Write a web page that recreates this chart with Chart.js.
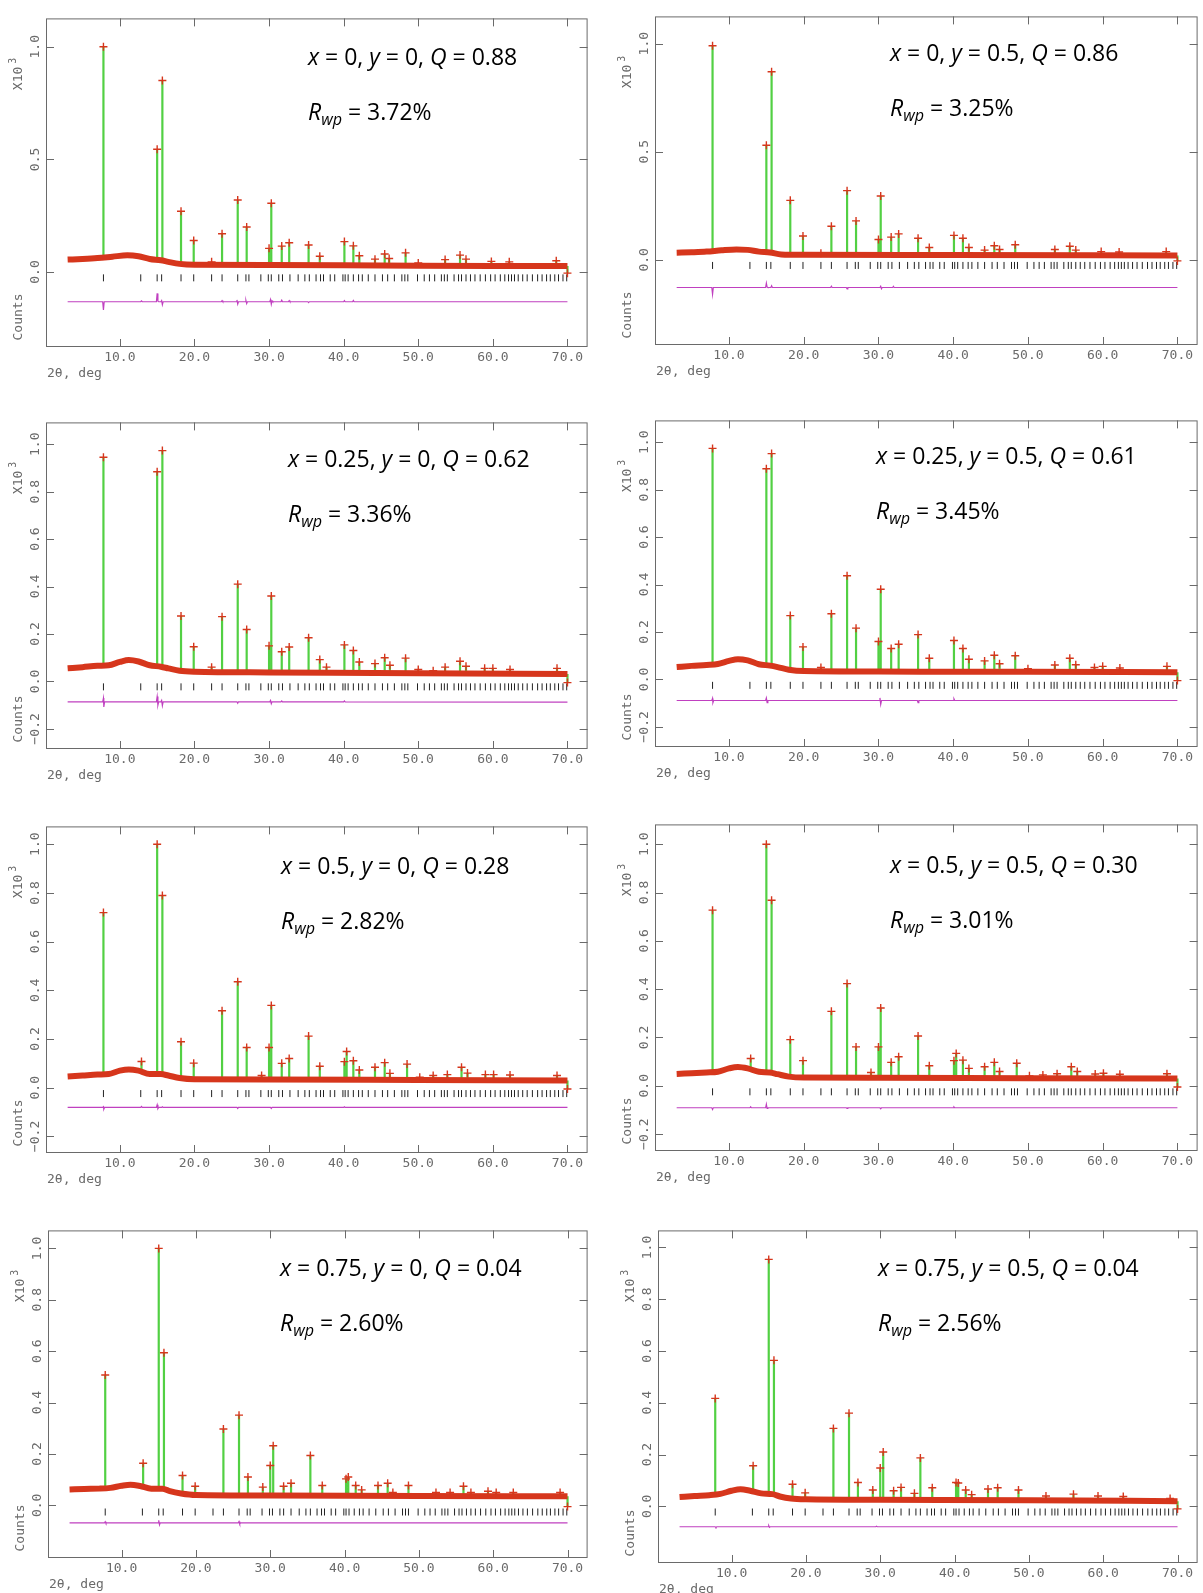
<!DOCTYPE html>
<html>
<head>
<meta charset="utf-8">
<script src="https://cdn.jsdelivr.net/npm/chart.js@4"></script>
<style>
  html, body { margin: 0; padding: 0; background: #fff; overflow: hidden; }
  #page { position: relative; width: 1203px; height: 1593px; background: #fff; }
  #page canvas { position: absolute; }
  .note { position: absolute; font-family: "Open Sans", sans-serif; font-size: 23px; line-height: 23px; color: #000; white-space: nowrap; }
  .note i { font-style: italic; }
  .note sub { font-size: 0.7em; font-style: italic; vertical-align: -0.3em; line-height: 0; }
</style>
</head>
<body>
<div id="page"></div>
<script>
// composition labels and fit quality for the 8 refinements
const compX = ['0', '0', '0.25', '0.25', '0.5', '0.5', '0.75', '0.75'];
const compY = ['0', '0.5', '0', '0.5', '0', '0.5', '0', '0.5'];
const qValues = ['0.88', '0.86', '0.62', '0.61', '0.28', '0.30', '0.04', '0.04'];
const rwpValues = ['3.72%', '3.25%', '3.36%', '3.45%', '2.82%', '3.01%', '2.60%', '2.56%'];

// 2theta axis ticks and reflection marker positions (deg)
const xTicks = [10, 20, 30, 40, 50, 60, 70];
const yTicksHalf = [0, 0.5, 1.0];
const yTicksFifth = [-0.2, 0, 0.2, 0.4, 0.6, 0.8, 1.0];
const yTicksPos = [0, 0.2, 0.4, 0.6, 0.8, 1.0];
const reflPos = [7.8, 12.8, 15.0, 15.6, 18.2, 19.9, 22.3, 23.7, 25.8, 26.9, 27.3, 28.9, 29.9, 30.3,
  31.3, 31.8, 32.8, 33.9, 34.8, 35.4, 36.3, 36.9, 37.3, 38.2, 38.8, 39.9, 40.2, 40.6, 41.3, 42.0,
  42.5, 43.3, 44.2, 45.2, 45.9, 46.8, 47.8, 48.2, 48.6, 49.9, 50.8, 51.5, 52.2, 53.1, 53.5, 53.9,
  54.8, 55.4, 55.8, 56.4, 57.0, 57.6, 58.3, 59.0, 59.7, 60.3, 61.0, 61.6, 62.1, 62.5, 62.9, 63.4,
  64.0, 64.6, 65.3, 66.0, 66.6, 67.2, 67.7, 68.3, 68.8, 69.4, 69.9];

// background (observed band) per panel: [2theta, counts x10^3]
const bgA = [[3,0.055],[5,0.058],[7,0.062],[9,0.068],[11,0.074],[12.5,0.07],[14,0.058],[15.5,0.052],[16.5,0.045],[18,0.036],[20,0.032],[30,0.031],[40,0.03],[50,0.028],[60,0.027],[70,0.027]];
const bgB = [[3,0.033],[5,0.035],[7,0.038],[9,0.044],[11,0.048],[12.5,0.046],[14,0.038],[15.5,0.034],[17,0.025],[20,0.023],[40,0.022],[70,0.02]];
const bgC = [[3,0.055],[5,0.06],[7,0.066],[8.5,0.068],[10,0.082],[11.2,0.09],[12.5,0.084],[14,0.068],[15.5,0.062],[16.5,0.055],[18,0.045],[20,0.041],[30,0.038],[50,0.034],[70,0.031]];
const bgD = [[3,0.052],[5,0.057],[7,0.061],[8.5,0.065],[10,0.078],[11.2,0.085],[12.5,0.08],[14,0.064],[15.5,0.058],[16.5,0.052],[18,0.041],[20,0.035],[30,0.033],[50,0.032],[70,0.03]];
const bgE = [[3,0.046],[5,0.05],[7,0.054],[8.5,0.056],[10,0.07],[11.2,0.075],[12.5,0.07],[14,0.056],[15.5,0.056],[16.5,0.05],[18,0.04],[20,0.035],[30,0.034],[50,0.032],[70,0.03]];
const bgF = [[3,0.049],[5,0.052],[7,0.055],[8.5,0.058],[10,0.072],[11.2,0.078],[12.5,0.072],[14,0.058],[15.5,0.055],[16.5,0.048],[18,0.038],[20,0.034],[30,0.033],[50,0.031],[70,0.03]];
const bgG = [[3,0.062],[5,0.064],[7,0.065],[8.5,0.068],[10,0.076],[11.2,0.08],[12.5,0.075],[14,0.065],[15.5,0.065],[16.5,0.055],[18,0.046],[20,0.04],[30,0.038],[50,0.036],[70,0.035]];
const bgH = [[3,0.036],[5,0.04],[7,0.043],[8.5,0.048],[10,0.06],[11.2,0.066],[12.5,0.06],[14,0.05],[15.5,0.047],[16.5,0.038],[18,0.03],[20,0.027],[30,0.025],[50,0.023],[70,0.02]];

// peak maxima per panel: [2theta, counts x10^3]
const peaksA = [[7.8,1.0],[15.0,0.545],[15.7,0.85],[18.2,0.27],[19.9,0.14],[22.3,0.045],[23.7,0.17],[25.8,0.32],[27.0,0.20],[30.0,0.105],[30.3,0.305],[31.7,0.115],[32.7,0.13],[35.3,0.12],[36.8,0.07],[40.1,0.135],[41.3,0.116],[42.1,0.072],[44.2,0.057],[45.5,0.08],[46.1,0.06],[48.3,0.085],[50.0,0.04],[53.6,0.055],[55.6,0.075],[56.4,0.057],[59.8,0.047],[62.2,0.045],[68.5,0.05],[70.0,-0.005]];
const peaksB = [[7.8,0.99],[15.0,0.53],[15.7,0.87],[18.2,0.275],[19.9,0.11],[22.3,0.03],[23.7,0.155],[25.8,0.32],[27.0,0.18],[30.0,0.094],[30.3,0.295],[31.7,0.105],[32.7,0.12],[35.3,0.10],[36.8,0.057],[40.1,0.113],[41.3,0.10],[42.1,0.057],[44.2,0.045],[45.5,0.065],[46.2,0.048],[48.3,0.07],[53.6,0.048],[55.6,0.063],[56.4,0.045],[59.8,0.038],[62.2,0.036],[68.5,0.038],[70.0,-0.005]];
const peaksC = [[7.8,0.945],[15.0,0.884],[15.7,0.973],[18.2,0.276],[19.9,0.146],[22.3,0.06],[23.7,0.273],[25.8,0.41],[27.0,0.219],[30.0,0.15],[30.3,0.36],[31.7,0.125],[32.7,0.145],[35.3,0.184],[36.8,0.092],[37.7,0.06],[40.1,0.154],[41.3,0.13],[42.1,0.082],[44.2,0.075],[45.5,0.1],[46.2,0.068],[48.3,0.098],[50.0,0.05],[52.0,0.045],[53.6,0.06],[55.6,0.085],[56.4,0.064],[58.9,0.055],[60.0,0.055],[62.3,0.05],[68.6,0.055],[70.0,-0.005]];
const peaksD = [[7.8,0.974],[15.0,0.888],[15.7,0.952],[18.2,0.269],[19.9,0.137],[22.3,0.05],[23.7,0.277],[25.8,0.437],[27.0,0.216],[30.0,0.16],[30.3,0.38],[31.7,0.13],[32.7,0.148],[35.3,0.189],[36.8,0.089],[40.1,0.164],[41.3,0.13],[42.1,0.085],[44.2,0.078],[45.5,0.102],[46.2,0.066],[48.3,0.1],[50.0,0.045],[53.6,0.061],[55.6,0.089],[56.4,0.062],[58.9,0.05],[60.0,0.055],[62.3,0.048],[68.6,0.055],[70.0,-0.005]];
const peaksE = [[7.8,0.719],[12.9,0.108],[15.0,1.0],[15.7,0.789],[18.2,0.189],[19.9,0.101],[23.7,0.316],[25.8,0.435],[27.0,0.165],[29.0,0.05],[30.0,0.165],[30.3,0.338],[31.7,0.1],[32.7,0.12],[35.3,0.212],[36.8,0.088],[40.1,0.107],[40.4,0.149],[41.3,0.111],[42.1,0.073],[44.2,0.084],[45.5,0.103],[46.2,0.059],[48.5,0.097],[50.2,0.043],[52.0,0.05],[53.9,0.054],[55.8,0.084],[56.6,0.06],[59.0,0.054],[60.1,0.054],[62.3,0.052],[68.6,0.05],[70.0,-0.005]];
const peaksF = [[7.8,0.727],[12.9,0.113],[15.0,1.0],[15.7,0.768],[18.2,0.191],[19.9,0.104],[23.7,0.308],[25.8,0.423],[27.0,0.161],[29.0,0.055],[30.0,0.161],[30.3,0.322],[31.7,0.097],[32.7,0.12],[35.3,0.206],[36.8,0.083],[40.1,0.104],[40.4,0.134],[41.3,0.106],[42.1,0.072],[44.2,0.079],[45.5,0.097],[46.2,0.059],[48.5,0.093],[50.2,0.041],[52.0,0.045],[53.9,0.05],[55.8,0.079],[56.6,0.059],[59.0,0.049],[60.1,0.052],[62.3,0.048],[68.6,0.05],[70.0,-0.005]];
const peaksG = [[7.8,0.507],[12.9,0.164],[15.0,1.0],[15.7,0.594],[18.2,0.116],[19.9,0.074],[23.7,0.297],[25.8,0.351],[27.0,0.11],[29.0,0.071],[30.0,0.155],[30.4,0.232],[31.8,0.074],[32.8,0.086],[35.4,0.194],[37.0,0.077],[40.2,0.103],[40.5,0.11],[41.5,0.077],[42.3,0.06],[44.5,0.077],[45.8,0.086],[46.5,0.05],[48.6,0.077],[52.3,0.05],[54.2,0.05],[56.0,0.074],[57.0,0.05],[59.3,0.055],[60.4,0.05],[62.7,0.05],[69.0,0.05],[70.0,-0.005]];
const peaksH = [[7.8,0.417],[12.9,0.157],[15.0,0.954],[15.7,0.564],[18.2,0.085],[19.9,0.052],[23.7,0.301],[25.8,0.36],[27.0,0.092],[29.0,0.063],[30.0,0.148],[30.4,0.21],[31.8,0.06],[32.8,0.073],[34.6,0.05],[35.4,0.187],[37.0,0.072],[40.2,0.092],[40.5,0.09],[41.5,0.063],[42.3,0.045],[44.5,0.067],[45.8,0.072],[48.6,0.063],[52.3,0.04],[56.0,0.047],[59.3,0.04],[62.7,0.038],[69.0,0.03],[70.0,-0.01]];

// difference curves (obs - calc, offset)
const diffA = [[3,-0.132],[7.7,-0.132],[7.8,-0.168],[7.9,-0.132],[12.8,-0.132],[12.9,-0.128],[13.0,-0.132],[14.9,-0.132],[15.0,-0.095],[15.1,-0.13],[15.2,-0.132],[15.5,-0.132],[15.6,-0.127],[15.7,-0.145],[15.8,-0.132],[23.6,-0.132],[23.7,-0.127],[23.8,-0.132],[25.6,-0.132],[25.7,-0.124],[25.8,-0.142],[25.9,-0.132],[26.8,-0.132],[26.9,-0.126],[27.0,-0.14],[27.1,-0.132],[30.1,-0.132],[30.2,-0.122],[30.3,-0.143],[30.4,-0.128],[30.5,-0.132],[31.6,-0.132],[31.7,-0.125],[31.8,-0.132],[32.6,-0.132],[32.7,-0.127],[32.8,-0.132],[35.2,-0.132],[35.3,-0.136],[35.4,-0.132],[40.0,-0.132],[40.1,-0.127],[40.2,-0.132],[41.2,-0.132],[41.3,-0.126],[41.4,-0.132],[70,-0.132]];
const diffB = [[3,-0.128],[7.7,-0.128],[7.8,-0.16],[7.9,-0.128],[14.9,-0.128],[15.0,-0.108],[15.1,-0.126],[15.2,-0.128],[15.6,-0.128],[15.7,-0.12],[15.8,-0.128],[23.6,-0.128],[23.7,-0.122],[23.8,-0.128],[25.7,-0.128],[25.8,-0.134],[25.9,-0.128],[30.2,-0.128],[30.3,-0.122],[30.4,-0.134],[30.5,-0.128],[31.9,-0.128],[32.0,-0.123],[32.1,-0.128],[70,-0.128]];
const diffC = [[3,-0.086],[7.7,-0.086],[7.8,-0.07],[7.85,-0.108],[7.95,-0.086],[14.9,-0.086],[15.0,-0.064],[15.1,-0.1],[15.2,-0.086],[15.5,-0.086],[15.6,-0.08],[15.7,-0.102],[15.8,-0.086],[25.7,-0.086],[25.8,-0.092],[25.9,-0.086],[30.1,-0.086],[30.2,-0.08],[30.3,-0.094],[30.4,-0.086],[31.6,-0.086],[31.7,-0.082],[31.8,-0.086],[40.0,-0.086],[40.1,-0.082],[40.2,-0.086],[70,-0.087]];
const diffD = [[3,-0.089],[7.7,-0.089],[7.8,-0.08],[7.85,-0.098],[7.95,-0.089],[14.9,-0.089],[15.0,-0.078],[15.1,-0.098],[15.2,-0.089],[30.1,-0.089],[30.2,-0.078],[30.3,-0.105],[30.4,-0.089],[35.2,-0.089],[35.3,-0.098],[35.4,-0.089],[40.0,-0.089],[40.1,-0.082],[40.2,-0.089],[70,-0.089]];
const diffE = [[3,-0.081],[7.7,-0.081],[7.8,-0.078],[7.85,-0.088],[7.95,-0.081],[12.8,-0.081],[12.9,-0.077],[13.0,-0.081],[14.9,-0.081],[15.0,-0.07],[15.1,-0.086],[15.2,-0.081],[15.6,-0.081],[15.7,-0.078],[15.8,-0.081],[25.7,-0.081],[25.8,-0.085],[25.9,-0.081],[30.2,-0.081],[30.3,-0.085],[30.4,-0.081],[40.0,-0.081],[40.1,-0.078],[40.2,-0.081],[70,-0.081]];
const diffF = [[3,-0.091],[7.7,-0.091],[7.8,-0.098],[7.9,-0.091],[12.8,-0.091],[12.9,-0.087],[13.0,-0.091],[14.9,-0.091],[15.0,-0.076],[15.1,-0.094],[15.2,-0.091],[25.7,-0.091],[25.8,-0.094],[25.9,-0.091],[30.2,-0.091],[30.3,-0.095],[30.4,-0.091],[40.0,-0.091],[40.1,-0.088],[40.2,-0.091],[70,-0.091]];
const diffG = [[3,-0.068],[7.7,-0.068],[7.8,-0.064],[7.9,-0.07],[8.0,-0.068],[14.9,-0.068],[15.0,-0.058],[15.1,-0.076],[15.2,-0.068],[25.7,-0.068],[25.8,-0.063],[25.9,-0.072],[26.0,-0.068],[70,-0.068]];
const diffH = [[3,-0.079],[7.8,-0.079],[7.9,-0.082],[8.0,-0.079],[14.9,-0.079],[15.0,-0.075],[15.1,-0.081],[15.2,-0.079],[29.4,-0.079],[29.5,-0.077],[29.6,-0.079],[70,-0.079]];

// level of the reflection marker row, per panel
const tickLevels = [-0.026, -0.026, -0.023, -0.025, -0.024, -0.025, -0.026, -0.022];

const RED = '#d6361c';
const GREEN = '#52d043';
const MAGENTA = '#c040c0';
const AXIS_COL = '#6a6a6a';
const MONO = '"DejaVu Sans Mono", monospace';
const AXIS_W = 46, AXIS_H = 45, PAD_T = 2, PAD_R = 2;

// layout: frame [left, right, top, bottom] in page px, y range, note position
const panels = [
  { bg: bgA, peaks: peaksA, diff: diffA, frame: [46, 591, 15, 347], yMin: -0.333, yMax: 1.126, yTicks: yTicksHalf, note: [308, 65] },
  { bg: bgB, peaks: peaksB, diff: diffB, frame: [655, 1201, 13, 345], yMin: -0.394, yMax: 1.126, yTicks: yTicksHalf, note: [890, 61] },
  { bg: bgC, peaks: peaksC, diff: diffC, frame: [46, 591, 419, 749], yMin: -0.285, yMax: 1.092, yTicks: yTicksFifth, note: [288, 467] },
  { bg: bgD, peaks: peaksD, diff: diffD, frame: [655, 1201, 417, 747], yMin: -0.285, yMax: 1.092, yTicks: yTicksFifth, note: [876, 464] },
  { bg: bgE, peaks: peaksE, diff: diffE, frame: [46, 591, 823, 1153], yMin: -0.268, yMax: 1.073, yTicks: yTicksFifth, note: [281, 874] },
  { bg: bgF, peaks: peaksF, diff: diffF, frame: [655, 1201, 821, 1151], yMin: -0.27, yMax: 1.082, yTicks: yTicksFifth, note: [890, 873] },
  { bg: bgG, peaks: peaksG, diff: diffG, frame: [48, 591, 1227, 1558], yMin: -0.205, yMax: 1.07, yTicks: yTicksPos, note: [280, 1276] },
  { bg: bgH, peaks: peaksH, diff: diffH, frame: [658, 1201, 1227, 1563], yMin: -0.219, yMax: 1.066, yTicks: yTicksPos, note: [878, 1276] }
];

function baseAt(bg, x) {
    for (let i = 1; i < bg.length; i++) {
        if (x <= bg[i][0]) {
            const [x0, y0] = bg[i - 1], [x1, y1] = bg[i];
            return y0 + (y1 - y0) * (x - x0) / (x1 - x0);
        }
    }
    return bg[bg.length - 1][1];
}

// each calculated peak as a vertical stroke from the band to its maximum
function peakLines(bg, peaks) {
    const pts = [];
    peaks.forEach(([x, top]) => {
        pts.push({ x, y: baseAt(bg, x) }, { x, y: top }, { x, y: null });
    });
    return pts;
}

function fmtY(v) {
    const s = Math.abs(v).toFixed(1);
    return v < 0 ? '\u2212' + s : s;
}

const framePlugin = {
    id: 'gsasFrame',
    beforeDatasetsDraw(chart) {
        const { ctx, chartArea: a, scales: { x, y } } = chart;
        ctx.save();
        ctx.strokeStyle = AXIS_COL;
        ctx.lineWidth = 1;
        ctx.strokeRect(a.left + 0.5, a.top + 0.5, a.right - a.left - 1, a.bottom - a.top - 1);
        ctx.beginPath();
        x.ticks.forEach(t => {
            const px = Math.round(x.getPixelForValue(t.value)) + 0.5;
            ctx.moveTo(px, a.top); ctx.lineTo(px, a.top + 8);
            ctx.moveTo(px, a.bottom); ctx.lineTo(px, a.bottom - 8);
        });
        y.ticks.forEach(t => {
            const py = Math.round(y.getPixelForValue(t.value)) + 0.5;
            ctx.moveTo(a.left, py); ctx.lineTo(a.left + 8, py);
            ctx.moveTo(a.right, py); ctx.lineTo(a.right - 8, py);
        });
        ctx.stroke();

        // rotated y tick labels
        ctx.fillStyle = AXIS_COL;
        ctx.font = '13px ' + MONO;
        ctx.textAlign = 'center';
        ctx.textBaseline = 'middle';
        y.ticks.forEach(t => {
            ctx.save();
            ctx.translate(a.left - 10, y.getPixelForValue(t.value));
            ctx.rotate(-Math.PI / 2);
            ctx.fillText(fmtY(t.value), 0, 0);
            ctx.restore();
        });

        // "X10 3" near the top, "Counts" near the bottom
        ctx.font = '13px ' + MONO;
        ctx.save();
        ctx.translate(a.left - 27, a.top + 56);
        ctx.rotate(-Math.PI / 2);
        const w = ctx.measureText('X10').width;
        ctx.textAlign = 'left';
        ctx.fillText('X10', -(w + 8) / 2, 0);
        ctx.font = '10px ' + MONO;
        ctx.fillText('3', -(w + 8) / 2 + w + 3, -6);
        ctx.restore();

        ctx.font = '13px ' + MONO;
        ctx.save();
        ctx.translate(a.left - 27, a.bottom - 30);
        ctx.rotate(-Math.PI / 2);
        ctx.textAlign = 'center';
        ctx.fillText('Counts', 0, 0);
        ctx.restore();

        ctx.textAlign = 'left';
        ctx.fillText('2\u03b8, deg', a.left + 1, a.bottom + 27);
        ctx.restore();
    }
};

const page = document.getElementById('page');

panels.forEach((p, i) => {
    const [fl, fr, ft, fb] = p.frame;
    const canvas = document.createElement('canvas');
    const w = AXIS_W + (fr - fl) + PAD_R;
    const h = PAD_T + (fb - ft) + AXIS_H;
    canvas.width = w;
    canvas.height = h;
    canvas.style.left = (fl - AXIS_W) + 'px';
    canvas.style.top = (ft - PAD_T) + 'px';
    canvas.style.width = w + 'px';
    canvas.style.height = h + 'px';
    page.appendChild(canvas);

    new Chart(canvas, {
        type: 'scatter',
        data: {
            datasets: [
                {
                    label: 'Calculated',
                    data: peakLines(p.bg, p.peaks),
                    showLine: true,
                    spanGaps: false,
                    borderColor: GREEN,
                    borderWidth: 2.2,
                    pointRadius: 0,
                    order: 3
                },
                {
                    label: 'Observed',
                    data: p.bg.map(([x, y]) => ({ x, y })),
                    showLine: true,
                    cubicInterpolationMode: 'monotone',
                    borderColor: RED,
                    borderWidth: 6,
                    pointRadius: 0,
                    order: 2
                },
                {
                    label: 'Observed maxima',
                    data: p.peaks.map(([x, y]) => ({ x, y })),
                    pointStyle: 'cross',
                    pointRadius: 4,
                    borderColor: RED,
                    borderWidth: 1.4,
                    order: 1
                },
                {
                    label: 'Reflections',
                    data: reflPos.map(x => ({ x, y: tickLevels[i] })),
                    pointStyle: 'line',
                    rotation: 90,
                    pointRadius: 3.5,
                    borderColor: '#222',
                    borderWidth: 1,
                    order: 1
                },
                {
                    label: 'Difference',
                    data: p.diff.map(([x, y]) => ({ x, y })),
                    showLine: true,
                    borderColor: MAGENTA,
                    borderWidth: 1.2,
                    pointRadius: 0,
                    order: 1
                }
            ]
        },
        options: {
            responsive: false,
            animation: false,
            events: [],
            layout: { padding: { top: PAD_T, right: PAD_R, left: 0, bottom: 0 } },
            plugins: { legend: { display: false }, tooltip: { enabled: false } },
            scales: {
                x: {
                    type: 'linear',
                    min: 0.1,
                    max: 72.7,
                    grid: { display: false, drawTicks: false },
                    border: { display: false },
                    afterBuildTicks: s => { s.ticks = xTicks.map(v => ({ value: v })); },
                    afterFit: s => { s.height = AXIS_H; },
                    ticks: {
                        color: AXIS_COL,
                        font: { family: MONO, size: 13 },
                        padding: 3,
                        maxRotation: 0,
                        autoSkip: false,
                        callback: v => v.toFixed(1)
                    }
                },
                y: {
                    type: 'linear',
                    min: p.yMin,
                    max: p.yMax,
                    grid: { display: false, drawTicks: false },
                    border: { display: false },
                    afterBuildTicks: s => { s.ticks = p.yTicks.map(v => ({ value: v })); },
                    afterFit: s => { s.width = AXIS_W; },
                    ticks: { display: false }
                }
            }
        },
        plugins: [framePlugin]
    });

    // composition / Q line and R_wp line
    const [nx, ny] = p.note;
    const n1 = document.createElement('div');
    n1.className = 'note';
    n1.style.left = nx + 'px';
    n1.style.top = (ny - 20) + 'px';
    n1.innerHTML = `<i>x</i> = ${compX[i]}, <i>y</i> = ${compY[i]}, <i>Q</i> = ${qValues[i]}`;
    page.appendChild(n1);

    const n2 = document.createElement('div');
    n2.className = 'note';
    n2.style.left = nx + 'px';
    n2.style.top = (ny + 55 - 20) + 'px';
    n2.innerHTML = `<i>R</i><sub>wp</sub> = ${rwpValues[i]}`;
    page.appendChild(n2);
});
</script>
</body>
</html>
